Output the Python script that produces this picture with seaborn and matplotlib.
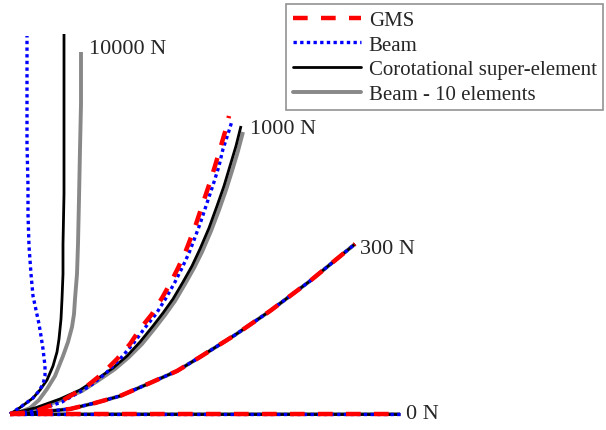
import numpy as np
import pandas as pd
import matplotlib
matplotlib.use("Agg")
import matplotlib.pyplot as plt
import seaborn as sns
from matplotlib.lines import Line2D

# tip paths, per load case and model (x, y)
series_names = ["GMS", "Beam", "Corotational super-element", "Beam - 10 elements"]

x_0 = [0, 390]
y_0 = [0, 0]

x_300 = [0, 30, 60, 85, 110, 140, 167, 190, 225, 260, 300, 345]
y_300 = [0, 2, 5, 11, 18, 31, 43, 57, 79, 103, 133, 170]

x_1000_gms = [0, 23, 50, 77, 92, 107, 120, 130, 142, 152, 161, 168, 175, 180, 186, 190, 195, 200, 205, 210, 215, 219]
y_1000_gms = [0, 2, 12, 28, 40, 55, 70, 85, 100, 116, 132, 146, 161, 174, 190, 202, 217, 232, 248, 265, 282, 298]
x_1000_beam = [0, 25, 52, 80, 95, 110, 123, 134, 146, 156, 165, 172, 179, 184, 190, 194, 199, 204, 209, 213, 218, 222]
y_1000_beam = [0, 3, 12, 28, 40, 55, 70, 85, 100, 116, 132, 146, 161, 174, 190, 202, 217, 232, 248, 265, 280, 293]
x_1000_corot = [0, 25, 50, 70, 87, 103, 117, 130, 143, 153, 163, 173, 182, 190, 199, 207, 214, 220, 226, 231]
y_1000_corot = [0, 6, 15, 24, 35, 46, 58, 72, 88, 101, 115, 132, 148, 165, 186, 208, 228, 248, 268, 288]
x_1000_beam10 = [0, 26, 51, 72, 89, 105, 119, 132, 145, 155, 165, 175, 184, 192, 201, 209, 216, 222, 228, 233]
y_1000_beam10 = [0, 5, 14, 23, 34, 45, 57, 70, 86, 99, 113, 130, 146, 162, 183, 204, 224, 243, 263, 282]

x_10000_beam = [0, 12, 23, 29, 33, 35, 35, 33, 31, 29, 26, 23, 21, 19, 18, 18, 17, 17, 17, 17]
y_10000_beam = [0, 8, 16, 23, 30, 38, 48, 65, 78, 90, 104, 118, 140, 168, 200, 228, 270, 300, 340, 378]
x_10000_corot = [0, 8, 15, 23, 30, 37, 43, 47, 49, 51, 52, 53, 53, 54, 54, 54, 54]
y_10000_corot = [0, 5, 10, 16, 24, 34, 48, 62, 75, 95, 115, 140, 170, 220, 265, 320, 380]
x_10000_beam10 = [0, 10, 20, 29, 37, 45, 53, 58, 62, 64, 65, 67, 68, 69, 70, 71, 71]
y_10000_beam10 = [0, 2, 6, 14, 25, 38, 58, 72, 87, 100, 115, 140, 170, 215, 265, 310, 362]

load_labels = ["10000 N", "1000 N", "300 N", "0 N"]
label_x = [79, 240, 350, 396]
label_y = [365, 285, 165, 0]

curves = {
    "Beam - 10 elements": [(x_0, y_0), (x_300, y_300), (x_1000_beam10, y_1000_beam10), (x_10000_beam10, y_10000_beam10)],
    "Corotational super-element": [(x_0, y_0), (x_300, y_300), (x_1000_corot, y_1000_corot), (x_10000_corot, y_10000_corot)],
    "Beam": [(x_0, y_0), (x_300, y_300), (x_1000_beam, y_1000_beam), (x_10000_beam, y_10000_beam)],
    "GMS": [(x_0, y_0), (x_300, y_300), (x_1000_gms, y_1000_gms)],
}

styles = {
    "GMS": dict(color="#ff0000", lw=3.2, dashes=(3.3, 3.0)),
    "Beam": dict(color="#0000ff", lw=2.4, dashes=(1, 1)),
    "Corotational super-element": dict(color="black", lw=2.0, dashes=None),
    "Beam - 10 elements": dict(color="#888888", lw=2.8, dashes=None),
}

sns.set_style("white")
plt.rcParams["font.family"] = ["Liberation Serif", "DejaVu Serif"]

fig = plt.figure(figsize=(6.06, 4.31), dpi=100)
ax = fig.add_axes([0, 0, 1, 1])

for name, paths in curves.items():
    st = styles[name]
    for xs, ys in paths:
        df = pd.DataFrame({"x": xs, "y": ys})
        sns.lineplot(data=df, x="x", y="y", sort=False, estimator=None,
                     color=st["color"], lw=st["lw"], ax=ax, legend=False)
        line = ax.lines[-1]
        if st["dashes"] is not None:
            line.set_dashes(st["dashes"])
        line.set_solid_capstyle("butt")
        line.set_solid_joinstyle("round")

for txt, tx, ty in zip(load_labels, label_x, label_y):
    ax.text(tx, ty, txt, fontsize=16, ha="left", va="center")

handles = []
for name in series_names:
    st = styles[name]
    h = Line2D([0], [0], color=st["color"], lw=st["lw"])
    if st["dashes"] is not None:
        h.set_dashes(st["dashes"])
    handles.append(h)

leg = ax.legend(handles, series_names, loc="upper right",
                bbox_to_anchor=(603 / 606, 1 - 5 / 431), bbox_transform=fig.transFigure,
                borderaxespad=0, fontsize=15, frameon=True, fancybox=False,
                handlelength=3.3, handletextpad=0.35, labelspacing=0.25, borderpad=0.3)
leg.get_frame().set_edgecolor("#777777")
leg.get_frame().set_linewidth(1.2)

ax.set_xlim(-10, 596)
ax.set_ylim(-16, 415)
ax.set_axis_off()

fig.savefig("out.png", dpi=100)
